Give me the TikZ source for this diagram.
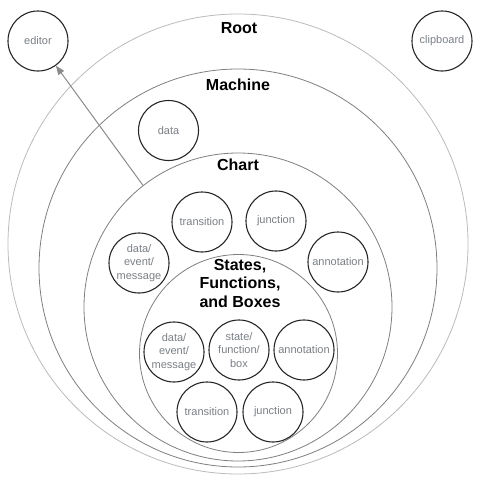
\documentclass[tikz,border=0pt]{standalone}
\usepackage{fontspec}
\setmainfont{Liberation Sans}
\usetikzlibrary{arrows.meta}
\definecolor{rootc}{HTML}{BBBBBB}
\definecolor{ringc}{HTML}{7F7F7F}
\definecolor{itemc}{HTML}{262626}
\definecolor{txtc}{HTML}{7A7F85}
\definecolor{arrc}{HTML}{8A8A8A}
\tikzset{
  ring/.style={circle, draw=ringc, line width=0.8pt, inner sep=0pt, minimum size=#1},
  item/.style={circle, draw=itemc, line width=1.1pt, inner sep=0pt, minimum size=60pt,
    text=txtc, align=center, font=\fontsize{11}{13.5}\selectfont},
  title/.style={font=\fontsize{16}{18.5}\selectfont\bfseries, text=black, align=center, inner sep=0pt},
  link/.style={draw=arrc, line width=1pt, -{Triangle[length=9pt,width=7pt]}}
}
\begin{document}
\begin{tikzpicture}[x=1pt,y=-1pt]
\useasboundingbox (0,0) rectangle (480,480);
% nested scopes
\node[ring=460pt, draw=rootc] (root) at (238,244) {};
\node[ring=398pt] (machine) at (238,268) {};
\node[ring=308pt] (chart) at (238,307) {};
\node[ring=198pt] (sfb) at (238.5,353.5) {};
% titles
\node[title, anchor=base] (rootlbl) at (239,33) {Root};
\node[title, anchor=base] (machinelbl) at (238,90) {Machine};
\node[title, anchor=base] (chartlbl) at (238,170) {Chart};
\node[title, anchor=north] (sfblbl) at (240,259) {States,\\Functions,\\and Boxes};
% outside items
\node[item] (editor) at (38,41) {editor};
\node[item] (clipboard) at (442,41) {clipboard};
% machine items
\node[item] (mdata) at (168.5,130.5) {data};
% chart items
\node[item] (ctrans) at (202,222) {transition};
\node[item] (cjunc) at (276,221) {junction};
\node[item] (cdata) at (139,263) {data/\\event/\\message};
\node[item] (cannot) at (338,262) {annotation};
% states items
\node[item] (sdata) at (174,352) {data/\\event/\\message};
\node[item] (sstate) at (239,350) {state/\\function/\\box};
\node[item] (sannot) at (304,350) {annotation};
\node[item] (strans) at (207,412) {transition};
\node[item] (sjunc) at (273,412) {junction};
% connector
\draw[link] (chart.128.7) -- (editor);
\end{tikzpicture}
\end{document}
